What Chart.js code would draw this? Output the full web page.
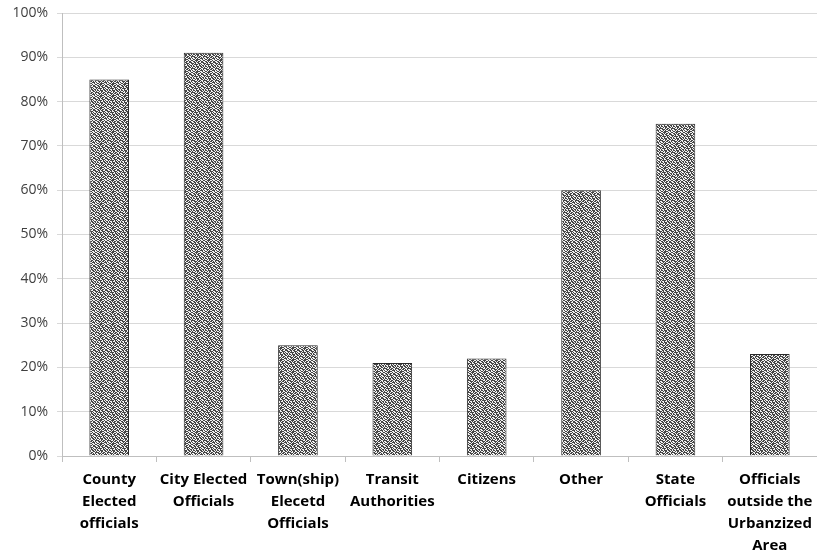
<!DOCTYPE html>
<html><head><meta charset="utf-8">
<script src="https://cdn.jsdelivr.net/npm/chart.js@4/dist/chart.umd.min.js"></script>
<style>html,body{margin:0;padding:0;background:#fff}#wrap{width:817px;height:557px}</style>
</head><body><div id="wrap"><canvas id="c" width="817" height="557"></canvas></div>
<script>
const categories = [
  ["County","Elected","officials"],
  ["City Elected","Officials"],
  ["Town(ship)","Elecetd","Officials"],
  ["Transit","Authorities"],
  ["Citizens"],
  ["Other"],
  ["State","Officials"],
  ["Officials","outside the","Urbanzized","Area"]
];
const values = [85, 91, 25, 21, 22, 60, 75, 23];
const yTicks = [0,10,20,30,40,50,60,70,80,90,100];

function makePattern(){
  const t = document.createElement('canvas');
  const rows = [
    "011000110110",
    "100101001001",
    "110010011000",
    "001011000110",
    "010000101011",
    "101101100100",
    "100100010010",
    "011010011001",
    "000110100110",
    "110001001010",
    "011010110001",
    "100100001101"
  ];
  t.width = 12; t.height = 12;
  const g = t.getContext('2d');
  g.fillStyle = '#454545'; g.fillRect(0,0,12,12);
  g.fillStyle = '#f2f2f2';
  rows.forEach((r,y)=>{ for(let x=0;x<12;x++) if(r[x]==='1') g.fillRect(x,y,1,1); });
  return g.createPattern(t,'repeat');
}
const ctx = document.getElementById('c').getContext('2d');
new Chart(ctx, {
  type: 'bar',
  data: { labels: categories, datasets: [{
    data: values,
    backgroundColor: makePattern(),
    borderColor: '#2a2a2a',
    borderWidth: 1,
    categoryPercentage: 1,
    barPercentage: 0.42
  }]},
  options: {
    responsive: false, animation: false,
    layout: { padding: { top: 13, right: 0, bottom: 0, left: 0 } },
    plugins: { legend: { display: false }, tooltip: { enabled: false } },
    scales: {
      x: {
        offset: true,
        grid: { offset: true, drawOnChartArea: false, color: '#bfbfbf', tickLength: 6 },
        border: { color: '#bfbfbf' },
        ticks: { color: '#000', maxRotation: 0, minRotation: 0, autoSkip: false, padding: 7,
          font: { family: 'Open Sans', size: 15, weight: 'bold', lineHeight: '22px' } },
        afterFit: s => { s.height = 101; s.paddingLeft = 0; s.paddingRight = 0; }
      },
      y: {
        min: 0, max: 100,
        afterBuildTicks: s => { s.ticks = yTicks.map(v => ({ value: v })); },
        grid: { color: '#d9d9d9', tickLength: 5 },
        border: { color: '#bfbfbf' },
        ticks: { color: '#404040', padding: 9, font: { family: 'Open Sans', size: 14 },
          callback: v => v + '%' },
        afterFit: s => { s.width = 62; s.paddingTop = 0; s.paddingBottom = 0; }
      }
    }
  }
});
</script></body></html>
